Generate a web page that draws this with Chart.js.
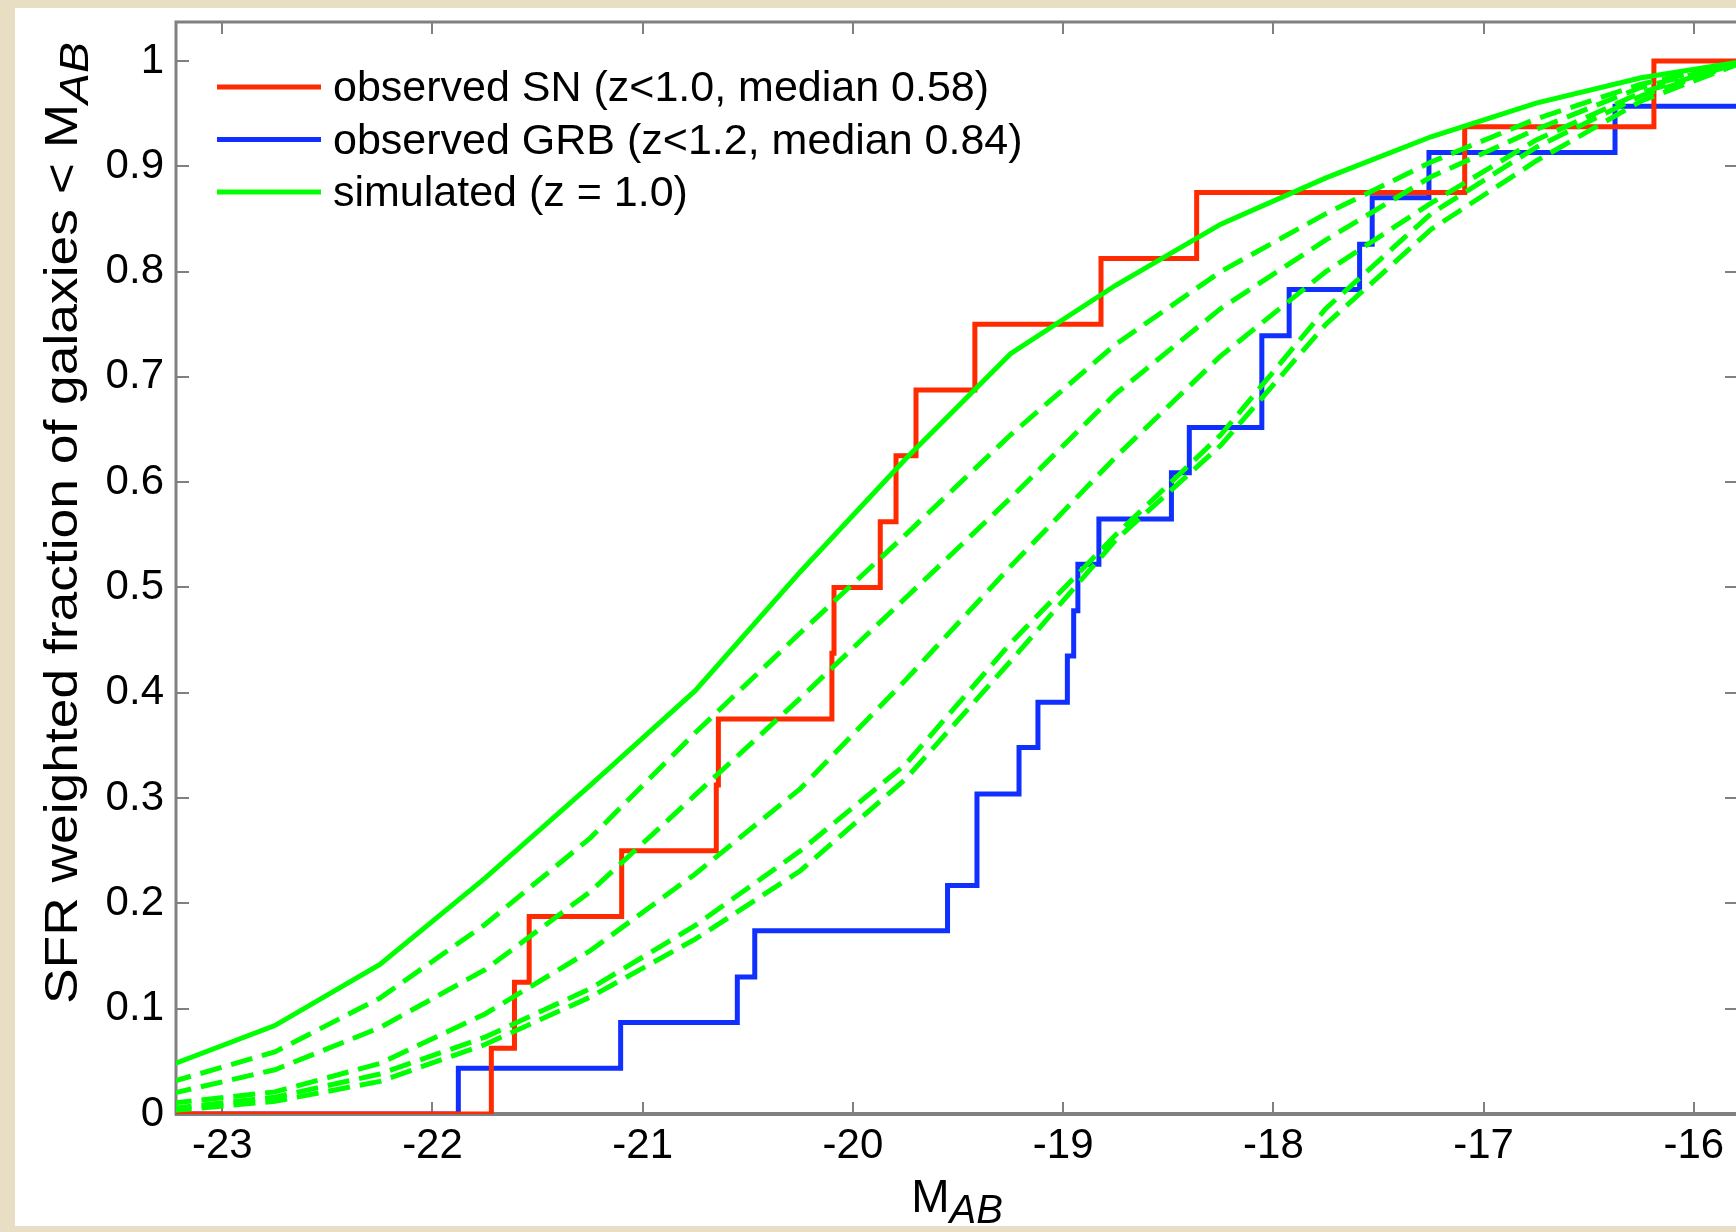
<!DOCTYPE html>
<html>
<head>
<meta charset="utf-8">
<script src="https://cdn.jsdelivr.net/npm/chart.js@4/dist/chart.umd.min.js"></script>
<style>
html, body { margin:0; padding:0; overflow:hidden; width:1736px; height:1232px;
  background:#e8dec4; }
#panel { position:absolute; left:15px; top:8px; width:1760px; height:1218px; background:#fff; }
#chart { position:absolute; left:0; top:0; }
</style>
</head>
<body>
<div id="panel"></div>
<canvas id="chart" width="1760" height="1232"></canvas>
<script>
// ---------------- data ----------------
const xTicks = [-23, -22, -21, -20, -19, -18, -17, -16];
const yTicks = [0, 0.1, 0.2, 0.3, 0.4, 0.5, 0.6, 0.7, 0.8, 0.9, 1];

// observed SN hosts, cumulative step
const snMag  = [-23.25, -21.72, -21.61, -21.54, -21.10, -20.65, -20.64, -20.10, -20.09, -19.87, -19.795, -19.70, -19.42, -18.82, -18.365, -17.09, -16.19, -15.75];
const snFrac = [0, 0.0625, 0.125, 0.1875, 0.25, 0.3125, 0.375, 0.4375, 0.5, 0.5625, 0.625, 0.6875, 0.75, 0.8125, 0.875, 0.9375, 1.0, 1.0];

// observed GRB hosts, cumulative step
const grbMag  = [-23.25, -21.877, -21.105, -20.55, -20.467, -19.55, -19.41, -19.21, -19.12, -18.98, -18.95, -18.93, -18.83, -18.485, -18.40, -18.055, -17.925, -17.59, -17.53, -17.26, -16.375, -15.75];
const grbFrac = [0, 0.0435, 0.087, 0.13, 0.174, 0.217, 0.304, 0.348, 0.391, 0.435, 0.478, 0.522, 0.565, 0.609, 0.652, 0.739, 0.783, 0.826, 0.870, 0.913, 0.957, 0.957];

// simulated curves (z = 1.0)
const simMag = [-23.25, -22.75, -22.25, -21.75, -21.25, -20.75, -20.25, -19.75, -19.25, -18.75, -18.25, -17.75, -17.25, -16.75, -16.25, -15.75];
const simSolid = [0.046, 0.084, 0.142, 0.224, 0.312, 0.402, 0.515, 0.622, 0.722, 0.787, 0.845, 0.889, 0.928, 0.960, 0.984, 1.0];
const simDash1 = [0.030, 0.059, 0.110, 0.180, 0.262, 0.362, 0.457, 0.550, 0.645, 0.731, 0.800, 0.855, 0.904, 0.945, 0.978, 1.0];
const simDash2 = [0.019, 0.042, 0.082, 0.137, 0.211, 0.303, 0.395, 0.490, 0.585, 0.684, 0.765, 0.830, 0.890, 0.935, 0.975, 1.0];
const simDash3 = [0.010, 0.021, 0.048, 0.095, 0.155, 0.228, 0.309, 0.412, 0.520, 0.624, 0.720, 0.800, 0.865, 0.925, 0.970, 1.0];
const simDash4 = [0.005, 0.016, 0.038, 0.073, 0.119, 0.179, 0.250, 0.332, 0.447, 0.550, 0.645, 0.765, 0.855, 0.918, 0.967, 1.0];
const simDash5 = [0.003, 0.012, 0.031, 0.066, 0.111, 0.166, 0.231, 0.318, 0.430, 0.545, 0.635, 0.750, 0.840, 0.905, 0.962, 1.0];

const FONT = "'Liberation Sans', Arial, Helvetica, sans-serif";
const GREEN = '#00ff00';

function toPoints(xs, ys) {
    return xs.map((v, i) => ({x: v, y: ys[i]}));
}

function simSet(values, dashed) {
    return {
        label: dashed ? '' : 'simulated (z = 1.0)',
        data: toPoints(simMag, values),
        borderColor: GREEN,
        borderWidth: 5,
        borderDash: dashed ? [22, 10] : [],
        pointRadius: 0,
        order: 1
    };
}

// ---------------- plugins ----------------

// MATLAB style box with inward ticks
const axisBox = {
    id: 'axisBox',
    beforeDatasetsDraw(chart) {
        const ctx = chart.ctx, a = chart.chartArea;
        const x = chart.scales.x, y = chart.scales.y;
        ctx.save();
        ctx.strokeStyle = '#808080';
        ctx.lineWidth = 2;
        ctx.beginPath();
        xTicks.forEach(v => {
            const px = Math.round(x.getPixelForValue(v));
            ctx.moveTo(px, a.bottom); ctx.lineTo(px, a.bottom - 12);
            ctx.moveTo(px, a.top); ctx.lineTo(px, a.top + 12);
        });
        yTicks.forEach(v => {
            const py = Math.round(y.getPixelForValue(v));
            ctx.moveTo(a.left, py); ctx.lineTo(a.left + 13, py);
            ctx.moveTo(a.right, py); ctx.lineTo(a.right - 13, py);
        });
        ctx.stroke();
        ctx.lineWidth = 3;
        ctx.strokeRect(a.left, a.top, a.right - a.left, a.bottom - a.top);
        ctx.lineWidth = 4;
        ctx.beginPath();
        ctx.moveTo(a.left - 1, a.bottom); ctx.lineTo(a.right, a.bottom);
        ctx.stroke();
        ctx.restore();
    }
};

// legend inside the axes, no frame
const innerLegend = {
    id: 'innerLegend',
    afterDatasetsDraw(chart) {
        const ctx = chart.ctx;
        const items = chart.data.datasets.filter(d => d.label);
        ctx.save();
        ctx.font = '43px ' + FONT;
        ctx.fillStyle = '#000';
        ctx.textBaseline = 'alphabetic';
        items.forEach((d, i) => {
            const ly = 87 + i * 52.5;
            ctx.strokeStyle = d.borderColor;
            ctx.lineWidth = 5;
            ctx.beginPath();
            ctx.moveTo(217, ly); ctx.lineTo(321, ly);
            ctx.stroke();
            ctx.fillText(d.label, 333, ly + 14);
        });
        ctx.restore();
    }
};

// axis titles with italic subscript
function drawSubText(ctx, main, sub, cx, base) {
    ctx.font = '46px ' + FONT;
    const w1 = ctx.measureText(main).width;
    ctx.font = 'italic 40px ' + FONT;
    const w2 = ctx.measureText(sub).width;
    const x0 = cx - (w1 + w2) / 2;
    ctx.font = '46px ' + FONT;
    ctx.fillText(main, x0, base);
    ctx.font = 'italic 40px ' + FONT;
    ctx.fillText(sub, x0 + w1, base + 11);
}

const axisTitles = {
    id: 'axisTitles',
    afterDraw(chart) {
        const ctx = chart.ctx;
        ctx.save();
        ctx.fillStyle = '#000';
        ctx.textBaseline = 'alphabetic';
        drawSubText(ctx, 'M', 'AB', 957, 1212);
        ctx.translate(77, 523);
        ctx.rotate(-Math.PI / 2);
        ctx.scale(1.16, 1);   // the original label is drawn stretched along its length
        drawSubText(ctx, 'SFR weighted fraction of galaxies < M', 'AB', 0, 0);
        ctx.restore();
    }
};

// ---------------- chart ----------------
const datasets = [
    {
        label: 'observed SN (z<1.0, median 0.58)',
        data: toPoints(snMag, snFrac),
        borderColor: '#ff2a00',
        borderWidth: 5,
        stepped: 'before',
        pointRadius: 0,
        order: 2
    },
    {
        label: 'observed GRB (z<1.2, median 0.84)',
        data: toPoints(grbMag, grbFrac),
        borderColor: '#1030ff',
        borderWidth: 5,
        stepped: 'before',
        pointRadius: 0,
        order: 2
    },
    simSet(simSolid, false),
    simSet(simDash1, true),
    simSet(simDash2, true),
    simSet(simDash3, true),
    simSet(simDash4, true),
    simSet(simDash5, true)
];

new Chart(document.getElementById('chart'), {
    type: 'line',
    data: {datasets: datasets},
    plugins: [axisBox, innerLegend, axisTitles],
    options: {
        responsive: false,
        animation: false,
        devicePixelRatio: 1,
        layout: {padding: {top: 22, right: 22, left: 0, bottom: 0}},
        plugins: {legend: {display: false}, tooltip: {enabled: false}},
        elements: {line: {tension: 0, fill: false}},
        scales: {
            x: {
                type: 'linear',
                min: -23.22,
                max: -15.79,
                afterFit(scale) {
                    scale.height = 118;
                    scale.paddingLeft = 0; scale.paddingRight = 0;
                },
                afterBuildTicks(scale) { scale.ticks = xTicks.map(v => ({value: v})); },
                grid: {display: false, drawTicks: false},
                border: {display: false},
                ticks: {
                    padding: 7,
                    color: '#000',
                    font: {family: FONT, size: 42},
                    callback: v => String(v)
                }
            },
            y: {
                type: 'linear',
                min: 0,
                max: 1.037,
                afterFit(scale) {
                    scale.width = 176;
                    scale.paddingTop = 0; scale.paddingBottom = 0;
                },
                afterBuildTicks(scale) { scale.ticks = yTicks.map(v => ({value: v})); },
                grid: {display: false, drawTicks: false},
                border: {display: false},
                ticks: {
                    padding: 12,
                    color: '#000',
                    font: {family: FONT, size: 42},
                    callback: v => String(Number(v.toFixed(1)))
                }
            }
        }
    }
});
</script>
</body>
</html>
